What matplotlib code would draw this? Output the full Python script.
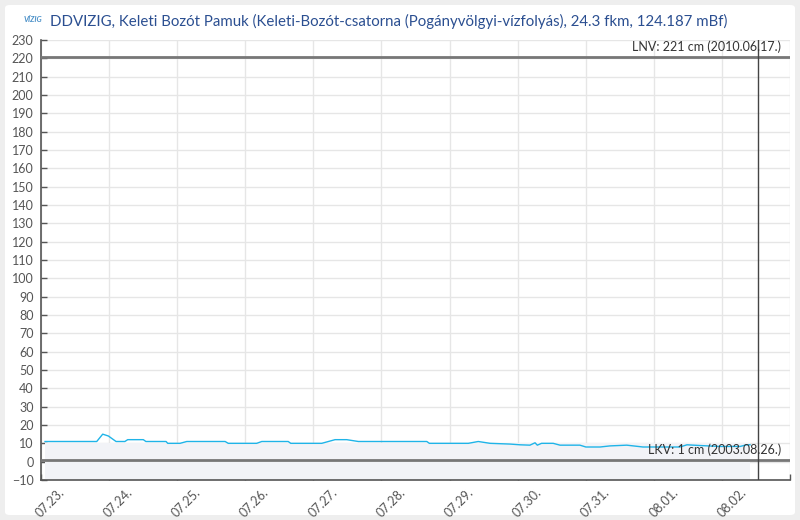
import matplotlib
matplotlib.use("Agg")
import matplotlib.pyplot as plt
import matplotlib.transforms as mtransforms
from matplotlib.patches import FancyBboxPatch

plt.rcParams['font.family'] = ['Lato', 'DejaVu Sans']

# hours since 07.23. 00:00
hours = [1.6, 19.8, 21.9, 23.9, 26.6, 29.7, 30.7, 36.2, 37.1, 44.2, 44.8, 49.1,
         51.5, 65.0, 66.1, 76.1, 77.9, 87.2, 88.1, 99.0, 103.7, 107.8, 111.9,
         136.0, 136.9, 150.6, 154.1, 158.3, 165.3, 168.8, 172.3, 174.1, 174.9,
         176.4, 180.5, 182.9, 189.9, 192.0, 197.0, 200.5, 206.4, 212.1, 225.1,
         227.6, 232.2, 239.2, 246.3, 248.6, 249.8]
levels = [11, 11, 15, 14, 11, 11, 12, 12, 11, 11, 10, 10,
          11, 11, 10, 10, 11, 11, 10, 10, 12, 12, 11,
          11, 10, 10, 11, 10, 9.6, 9.2, 9, 10.3, 9,
          10, 10, 9, 9, 8, 8, 8.6, 9, 8, 8,
          9.2, 8.8, 8.3, 8.3, 9.2, 9.2]

band_low, band_high = -10, 10
lnv_value, lnv_label = 221, "LNV: 221 cm (2010.06.17.)"
lkv_value, lkv_label = 1, "LKV: 1 cm (2003.08.26.)"
now_hour = 252.7

tick_hours = [0, 24, 48, 72, 96, 120, 144, 168, 192, 216, 240, 264]
tick_labels = ["07.23.", "07.24.", "07.25.", "07.26.", "07.27.", "07.28.",
               "07.29.", "07.30.", "07.31.", "08.01.", "08.02.", ""]
y_ticks = list(range(-10, 231, 10))

title = ("DDVIZIG, Keleti Bozót Pamuk (Keleti-Bozót-csatorna "
         "(Pogányvölgyi-vízfolyás), 24.3 fkm, 124.187 mBf)")

fig = plt.figure(figsize=(8, 5.2), dpi=100)
fig.patch.set_facecolor('#eeeeee')
panel = FancyBboxPatch((5 / 800, 5 / 520), 790 / 800, 510 / 520,
                       boxstyle="round,pad=0,rounding_size=0.006",
                       transform=fig.transFigure, facecolor='white',
                       edgecolor='none', zorder=-5)
fig.patches.append(panel)

ax = fig.add_axes([40.5 / 800, 1 - 480 / 520, (790.4 - 40.5) / 800, 440 / 520])
ax.set_facecolor('none')
ax.set_zorder(2)

ax.fill_between([hours[0], hours[-1]], band_low, band_high,
                color='#f2f3f7', lw=0, zorder=1)
ax.plot(hours, levels, color='#1fb4e8', lw=1.0, zorder=4)

ax.axhline(lnv_value, color='#777777', lw=2, zorder=3)
ax.axhline(lkv_value, color='#777777', lw=2, zorder=3)
ax.axvline(now_hour, color='#444444', lw=1, zorder=3)

ax.text(0.988, lnv_value + 2, lnv_label, transform=ax.get_yaxis_transform(),
        ha='right', va='bottom', fontsize=9, color='#333333', zorder=5)
ax.text(0.988, lkv_value + 2, lkv_label, transform=ax.get_yaxis_transform(),
        ha='right', va='bottom', fontsize=9, color='#333333', zorder=5)

ax.set_xlim(0, 264)
ax.set_ylim(-10, 230)
ax.set_yticks(y_ticks)
ax.set_xticks(tick_hours)
ax.set_xticklabels([])
offset = mtransforms.ScaledTranslation(22 / 100, -10 / 100, fig.dpi_scale_trans)
lab_tr = ax.get_xaxis_transform() + offset
for h, lab in zip(tick_hours, tick_labels):
    ax.text(h, 0, lab, transform=lab_tr, rotation=45, rotation_mode='anchor',
            ha='right', va='center', fontsize=9, color='#555555',
            clip_on=False)

ax.grid(True, color='#e6e6e6', lw=1, zorder=0)
ax.set_axisbelow(True)
for s in ['top', 'right']:
    ax.spines[s].set_visible(False)
for s in ['left', 'bottom']:
    ax.spines[s].set_color('#555555')
    ax.spines[s].set_linewidth(1.2)
ax.tick_params(axis='both', direction='in', length=4, width=1,
               color='#555555', labelcolor='#555555', labelsize=9)
ax.tick_params(axis='y', pad=5)

fig.text(50 / 800, 1 - 21 / 520, title, ha='left', va='center',
         fontsize=10.8, color='#2b4f91')
fig.text(33 / 800, 1 - 19 / 520, "VÍZIG", ha='center', va='center',
         fontsize=5.5, color='#4a90c8', style='italic', fontweight='bold')

fig.savefig("out.png", dpi=100, facecolor=fig.get_facecolor())
